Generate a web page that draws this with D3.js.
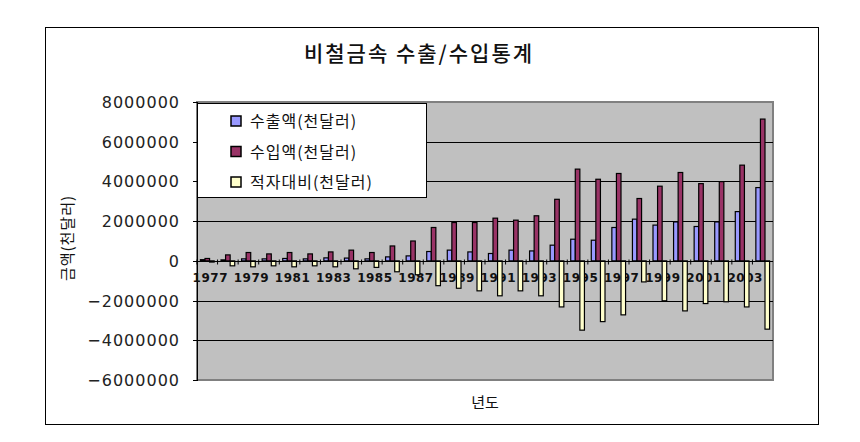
<!DOCTYPE html>
<html>
  <head>
    <meta charset="utf-8">
    <style>
      body { margin: 0; background: #fff; }
      .ytick { font-family: 'DejaVu Sans', sans-serif; font-size: 16px; letter-spacing: 1px; fill: #222; }
      .xtick { font-family: 'DejaVu Sans', sans-serif; font-size: 12px; font-weight: bold; letter-spacing: 0.5px; fill: #111; }
      .kor { font-family: 'Noto Sans CJK KR', 'Noto Sans', sans-serif; fill: #111; }
    </style>
  </head>
  <body>
    <script src="https://d3js.org/d3.v7.min.js"></script>
    <script>
      var width = 860;
      var height = 442;

      // data
      var years = [1977, 1978, 1979, 1980, 1981, 1982, 1983, 1984, 1985, 1986,
                   1987, 1988, 1989, 1990, 1991, 1992, 1993, 1994, 1995, 1996,
                   1997, 1998, 1999, 2000, 2001, 2002, 2003, 2004];
      var exportsK = [60000, 50000, 100000, 100000, 120000, 100000, 150000, 140000, 100000, 200000,
                      250000, 470000, 540000, 450000, 370000, 540000, 500000, 790000, 1090000, 1040000,
                      1680000, 2100000, 1800000, 1960000, 1730000, 1960000, 2480000, 3690000];
      var importsK = [120000, 300000, 420000, 350000, 420000, 350000, 450000, 540000, 420000, 750000,
                      1000000, 1680000, 1930000, 1930000, 2150000, 2050000, 2270000, 3100000, 4620000, 4110000,
                      4400000, 3140000, 3760000, 4450000, 3890000, 3990000, 4820000, 7140000];
      var deficitK = [-60000, -250000, -300000, -250000, -300000, -250000, -300000, -400000, -330000, -550000,
                      -700000, -1250000, -1380000, -1510000, -1760000, -1510000, -1760000, -2320000, -3490000, -3060000,
                      -2720000, -1060000, -2010000, -2520000, -2150000, -2060000, -2320000, -3440000];
      var seriesNames = ["수출액(천달러)", "수입액(천달러)", "적자대비(천달러)"];
      var seriesColors = ["#9999ff", "#993366", "#ffffcc"];
      var yTicks = [8000000, 6000000, 4000000, 2000000, 0, -2000000, -4000000, -6000000];
      var xLabels = [1977, 1979, 1981, 1983, 1985, 1987, 1989, 1991, 1993, 1995, 1997, 1999, 2001, 2003];

      var series = [exportsK, importsK, deficitK];

      var plot = { left: 197, right: 773, top: 102, bottom: 380 };

      var svg = d3.select("body")
        .append("svg")
        .attr("width", width)
        .attr("height", height);

      // chart frame
      svg.append("rect")
        .attr("x", 45.5).attr("y", 27.5)
        .attr("width", 773).attr("height", 397)
        .attr("fill", "#fff")
        .attr("stroke", "#000");

      var x0 = d3.scaleBand()
        .domain(years)
        .range([plot.left, plot.right]);

      var x1 = d3.scaleBand()
        .domain([0, 1, 2])
        .range([0, x0.bandwidth()])
        .paddingInner(0)
        .paddingOuter(0.75);

      var y = d3.scaleLinear()
        .domain([-6000000, 8000000])
        .range([plot.bottom, plot.top]);

      // plot area
      svg.append("rect")
        .attr("x", plot.left).attr("y", plot.top)
        .attr("width", plot.right - plot.left).attr("height", plot.bottom - plot.top)
        .attr("fill", "#c0c0c0")
        .attr("stroke", "#808080")
        .attr("stroke-width", 2);

      // gridlines
      svg.append("g")
        .selectAll("line")
        .data(yTicks.slice(1, -1))
        .enter().append("line")
        .attr("x1", plot.left).attr("x2", plot.right)
        .attr("y1", function(d) { return Math.round(y(d)) + 0.5; })
        .attr("y2", function(d) { return Math.round(y(d)) + 0.5; })
        .attr("stroke", "#000");

      // y axis
      svg.append("line")
        .attr("x1", plot.left + 0.5).attr("x2", plot.left + 0.5)
        .attr("y1", plot.top).attr("y2", plot.bottom + 1)
        .attr("stroke", "#000");

      svg.append("g")
        .selectAll("line")
        .data(yTicks)
        .enter().append("line")
        .attr("x1", plot.left - 4).attr("x2", plot.left)
        .attr("y1", function(d) { return Math.round(y(d)) + 0.5; })
        .attr("y2", function(d) { return Math.round(y(d)) + 0.5; })
        .attr("stroke", "#000");

      svg.append("g")
        .selectAll("text")
        .data(yTicks)
        .enter().append("text")
        .attr("class", "ytick")
        .attr("x", 180)
        .attr("y", function(d) { return y(d) + 6; })
        .attr("text-anchor", "end")
        .text(function(d) { return d < 0 ? "\u2212" + Math.abs(d) : String(d); });

      // x tick labels (drawn under the bars)
      svg.append("g")
        .selectAll("text")
        .data(xLabels)
        .enter().append("text")
        .attr("class", "xtick")
        .attr("x", function(d) { return x0(d) + x0.bandwidth() / 2 + 3; })
        .attr("y", 282)
        .attr("text-anchor", "middle")
        .text(function(d) { return d; });

      // bars
      series.forEach(function(values, si) {
        svg.append("g")
          .selectAll("rect")
          .data(values)
          .enter().append("rect")
          .attr("x", function(d, i) { return x0(years[i]) + x1(si); })
          .attr("y", function(d) { return Math.min(y(d), y(0)); })
          .attr("width", x1.bandwidth())
          .attr("height", function(d) { return Math.abs(y(d) - y(0)); })
          .attr("fill", seriesColors[si])
          .attr("stroke", "#000")
          .attr("stroke-width", 1.2);
      });

      // category axis at zero
      var zeroY = Math.round(y(0)) + 0.5;
      svg.append("line")
        .attr("x1", plot.left).attr("x2", plot.right)
        .attr("y1", zeroY).attr("y2", zeroY)
        .attr("stroke", "#000");

      svg.append("g")
        .selectAll("line")
        .data(years)
        .enter().append("line")
        .attr("x1", function(d) { return x0(d); })
        .attr("x2", function(d) { return x0(d); })
        .attr("y1", zeroY - 2).attr("y2", zeroY + 3)
        .attr("stroke", "#000");

      // title
      svg.append("text")
        .attr("class", "kor")
        .attr("x", 419).attr("y", 61)
        .attr("text-anchor", "middle")
        .style("font-size", "21px")
        .style("font-weight", "500")
        .style("letter-spacing", "2px")
        .text("비철금속 수출/수입통계");

      // axis titles
      svg.append("text")
        .attr("class", "kor")
        .attr("transform", "translate(73,238) rotate(-90)")
        .attr("text-anchor", "middle")
        .style("font-size", "15px")
        .style("letter-spacing", "1px")
        .text("금액(천달러)");

      svg.append("text")
        .attr("class", "kor")
        .attr("x", 485).attr("y", 408)
        .attr("text-anchor", "middle")
        .style("font-size", "15px")
        .text("년도");

      // legend
      var legend = svg.append("g");
      legend.append("rect")
        .attr("x", 197.5).attr("y", 103.5)
        .attr("width", 229).attr("height", 94)
        .attr("fill", "#fff")
        .attr("stroke", "#000");

      var item = legend.selectAll("g.item")
        .data(seriesNames)
        .enter().append("g")
        .attr("class", "item")
        .attr("transform", function(d, i) { return "translate(231," + (121 + i * 30.5) + ")"; });

      item.append("rect")
        .attr("x", 0).attr("y", -5)
        .attr("width", 10).attr("height", 10)
        .attr("fill", function(d, i) { return seriesColors[i]; })
        .attr("stroke", "#000")
        .attr("stroke-width", 1.5);

      item.append("text")
        .attr("class", "kor")
        .attr("x", 19).attr("y", 6)
        .style("font-size", "16px")
        .style("letter-spacing", "1px")
        .text(function(d) { return d; });
    </script>
  </body>
</html>
